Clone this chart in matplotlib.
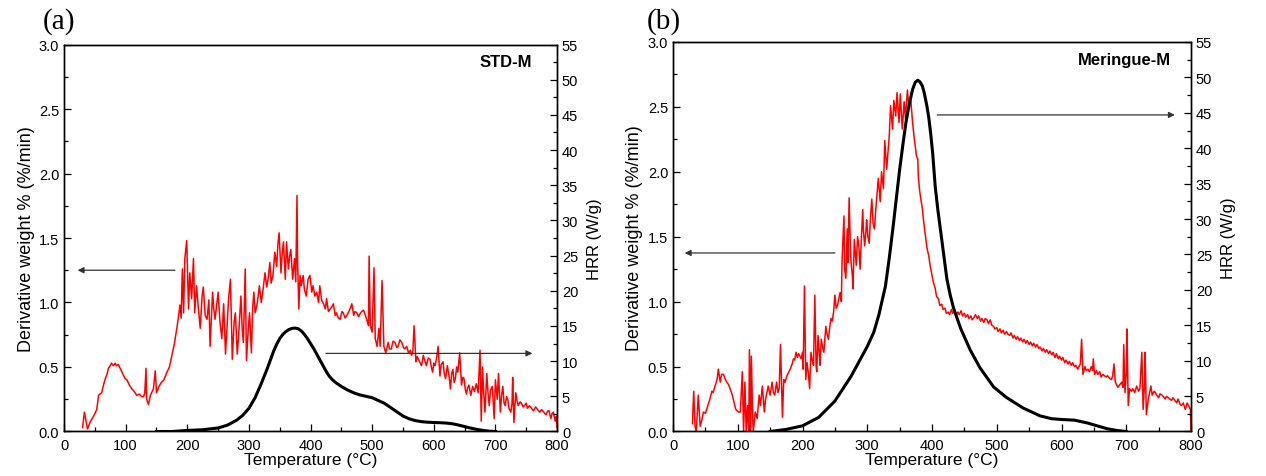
import numpy as np
import matplotlib
matplotlib.use("Agg")
import matplotlib.pyplot as plt
from matplotlib.ticker import MultipleLocator, FormatStrFormatter

plt.rcParams['font.family'] = ['Liberation Sans', 'DejaVu Sans']

# ---- panel (a) STD-M : derivative weight (red) ----
temp_dtg_a = [30, 33, 38, 43, 48, 53, 56, 61, 64, 67, 70, 72, 75, 77, 80, 83, 85, 88, 91, 95,
              99, 102, 106, 110, 114, 118, 122, 126, 129, 131, 133, 134, 137, 140, 142, 145, 148, 150, 154, 158,
              162, 167, 171, 175, 179, 183, 186, 188, 190, 192, 194, 196, 199, 202, 204, 207, 210, 212, 215, 218,
              221, 224, 226, 229, 232, 235, 237, 241, 243, 245, 248, 250, 253, 256, 259, 262, 264, 267, 270, 273,
              276, 278, 281, 283, 287, 289, 291, 294, 296, 299, 301, 304, 306, 308, 310, 313, 315, 317, 320, 323,
              326, 329, 331, 334, 336, 339, 342, 345, 347, 349, 352, 354, 356, 359, 361, 364, 366, 368, 371, 374,
              376, 378, 379, 381, 383, 385, 388, 390, 393, 396, 399, 402, 404, 407, 410, 413, 415, 418, 421, 424,
              426, 429, 432, 435, 437, 440, 442, 445, 448, 451, 453, 456, 459, 462, 464, 467, 470, 472, 475, 478,
              480, 483, 486, 489, 491, 494, 495, 497, 500, 503, 505, 508, 511, 513, 516, 519, 522, 526, 528, 531,
              534, 537, 540, 542, 545, 548, 551, 553, 556, 559, 562, 564, 566, 568, 571, 573, 575, 578, 580, 583,
              586, 588, 591, 594, 596, 598, 600, 602, 605, 607, 610, 612, 615, 617, 619, 622, 625, 627, 629, 631,
              633, 635, 637, 639, 642, 645, 647, 649, 651, 653, 655, 657, 660, 663, 666, 669, 672, 675, 677, 679,
              681, 683, 686, 688, 690, 692, 695, 698, 700, 703, 705, 708, 710, 712, 714, 716, 718, 720, 722, 725,
              727, 728, 730, 733, 735, 737, 740, 742, 745, 747, 750, 752, 755, 757, 760, 762, 765, 767, 770, 772,
              775, 777, 780, 782, 785, 787, 790, 792, 794, 797, 799, 800]
dtg_a = [0.03, 0.15, 0.02, 0.08, 0.12, 0.17, 0.28, 0.30, 0.36, 0.41, 0.45, 0.49, 0.51, 0.53, 0.51, 0.53, 0.51, 0.52, 0.49, 0.45,
         0.41, 0.40, 0.36, 0.33, 0.31, 0.28, 0.29, 0.27, 0.27, 0.30, 0.49, 0.25, 0.21, 0.28, 0.30, 0.33, 0.47, 0.30, 0.35, 0.38,
         0.40, 0.46, 0.50, 0.59, 0.68, 0.80, 0.90, 0.98, 0.88, 1.26, 0.92, 1.34, 1.48, 0.95, 1.23, 1.03, 1.34, 0.92, 1.13, 0.95,
         0.80, 1.05, 1.12, 0.90, 0.87, 1.02, 0.66, 1.08, 0.95, 0.87, 1.00, 1.08, 0.85, 0.72, 0.99, 0.60, 0.77, 1.03, 1.18, 0.56,
         0.85, 0.92, 0.60, 0.72, 1.05, 0.80, 0.69, 1.26, 0.55, 0.80, 0.92, 0.61, 0.95, 1.08, 0.92, 0.98, 1.05, 1.13, 1.00, 1.10,
         1.23, 1.12, 1.18, 1.31, 1.15, 1.21, 1.39, 1.28, 1.45, 1.54, 1.23, 1.38, 1.47, 1.18, 1.47, 1.26, 1.36, 1.41, 1.18, 1.34,
         1.16, 1.83, 1.31, 0.95, 1.21, 1.13, 1.21, 1.10, 1.05, 1.18, 1.21, 1.08, 1.13, 1.05, 1.08, 1.00, 1.13, 1.02, 0.99, 0.95,
         1.03, 0.93, 0.95, 0.97, 0.99, 0.90, 0.92, 0.88, 0.87, 0.93, 0.92, 0.88, 0.90, 0.93, 0.95, 0.99, 0.90, 0.93, 0.92, 0.89,
         0.91, 0.93, 0.94, 0.90, 0.87, 0.82, 1.36, 0.82, 0.77, 1.27, 0.72, 0.66, 0.80, 0.66, 1.17, 0.66, 0.61, 0.69, 0.64, 0.64,
         0.70, 0.69, 0.65, 0.66, 0.71, 0.69, 0.65, 0.64, 0.66, 0.61, 0.63, 0.59, 0.62, 0.82, 0.54, 0.58, 0.56, 0.53, 0.51, 0.59,
         0.54, 0.51, 0.57, 0.56, 0.50, 0.46, 0.53, 0.51, 0.58, 0.66, 0.43, 0.52, 0.54, 0.45, 0.41, 0.51, 0.42, 0.33, 0.45, 0.48,
         0.38, 0.41, 0.50, 0.46, 0.61, 0.36, 0.42, 0.41, 0.33, 0.29, 0.34, 0.36, 0.28, 0.35, 0.31, 0.37, 0.30, 0.63, 0.08, 0.50,
         0.30, 0.15, 0.45, 0.30, 0.20, 0.32, 0.35, 0.10, 0.40, 0.25, 0.45, 0.15, 0.28, 0.35, 0.22, 0.20, 0.27, 0.25, 0.18, 0.15,
         0.22, 0.42, 0.07, 0.30, 0.24, 0.20, 0.23, 0.22, 0.19, 0.20, 0.22, 0.18, 0.20, 0.19, 0.17, 0.16, 0.19, 0.18, 0.16, 0.15,
         0.17, 0.16, 0.14, 0.13, 0.16, 0.16, 0.10, 0.14, 0.15, 0.08, 0.12, 0.03]

# ---- panel (a) STD-M : heat release rate (black) ----
temp_hrr_a = [150, 175, 200, 225, 250, 265, 280, 290, 300, 310, 320, 330, 340, 345, 350, 355, 360, 365, 370, 375,
              380, 385, 390, 395, 400, 405, 410, 415, 420, 425, 430, 435, 440, 450, 460, 470, 480, 490, 500, 510,
              520, 530, 540, 550, 560, 570, 580, 590, 600, 610, 620, 630, 640, 650, 660, 670, 680, 690, 700]
hrr_a = [0.0, 0.0, 0.15, 0.25, 0.5, 0.9, 1.6, 2.3, 3.3, 4.8, 6.8, 9.0, 11.4, 12.4, 13.2, 13.8, 14.2, 14.5, 14.65, 14.7,
         14.6, 14.3, 13.8, 13.2, 12.5, 11.8, 11.0, 10.2, 9.4, 8.6, 7.9, 7.4, 7.0, 6.4, 5.9, 5.5, 5.2, 5.0, 4.8, 4.4,
         4.0, 3.4, 2.8, 2.2, 1.8, 1.55, 1.4, 1.32, 1.28, 1.25, 1.2, 1.1, 0.92, 0.7, 0.48, 0.3, 0.15, 0.05, 0.0]

# ---- panel (b) Meringue-M : derivative weight (red) ----
temp_dtg_b = [30, 32, 34, 36, 39, 42, 45, 47, 50, 52, 55, 57, 60, 62, 65, 68, 70, 73, 75, 78,
              80, 83, 86, 88, 91, 93, 95, 97, 101, 104, 107, 109, 111, 113, 115, 117, 118, 120, 121, 123,
              124, 127, 130, 133, 135, 138, 141, 143, 145, 147, 150, 153, 155, 157, 160, 162, 164, 166, 169, 171,
              173, 176, 178, 181, 184, 186, 188, 190, 192, 194, 196, 198, 200, 201, 203, 205, 207, 209, 211, 213,
              215, 217, 219, 221, 222, 224, 226, 227, 229, 231, 233, 235, 236, 238, 240, 242, 244, 246, 248, 250,
              252, 254, 256, 258, 260, 261, 262, 264, 265, 267, 269, 270, 272, 274, 275, 277, 278, 280, 282, 283,
              285, 287, 289, 291, 293, 294, 296, 298, 299, 301, 303, 305, 307, 309, 311, 313, 315, 317, 320, 322,
              325, 327, 330, 332, 334, 336, 339, 341, 344, 346, 349, 351, 354, 357, 359, 362, 364, 367, 370, 372,
              374, 376, 378, 379, 381, 383, 385, 387, 390, 392, 395, 397, 400, 402, 405, 407, 410, 412, 415, 417,
              420, 422, 425, 427, 430, 432, 435, 437, 440, 442, 445, 447, 450, 452, 455, 457, 460, 462, 465, 467,
              470, 472, 475, 477, 480, 482, 485, 487, 490, 492, 495, 497, 500, 502, 505, 507, 510, 512, 515, 517,
              520, 522, 525, 527, 530, 532, 535, 537, 540, 542, 545, 547, 550, 552, 555, 557, 560, 562, 565, 567,
              570, 572, 575, 577, 580, 582, 585, 587, 590, 592, 595, 597, 600, 602, 605, 607, 610, 612, 615, 617,
              620, 622, 625, 627, 629, 631, 633, 636, 638, 641, 643, 646, 648, 649, 651, 654, 656, 659, 661, 664,
              666, 669, 671, 674, 677, 679, 681, 683, 685, 687, 690, 693, 695, 696, 698, 700, 701, 703, 705, 708,
              710, 713, 716, 719, 721, 724, 726, 728, 729, 731, 734, 736, 738, 740, 743, 745, 747, 750, 752, 755,
              757, 760, 762, 765, 767, 770, 772, 775, 778, 780, 783, 785, 788, 791, 794, 796, 799, 800]
dtg_b = [0.06, 0.31, 0.04, 0.00, 0.28, 0.04, 0.10, 0.15, 0.14, 0.17, 0.22, 0.25, 0.31, 0.30, 0.35, 0.40, 0.48, 0.38, 0.44, 0.44,
         0.41, 0.38, 0.36, 0.33, 0.29, 0.25, 0.21, 0.17, 0.15, 0.15, 0.46, 0.00, 0.38, 0.00, 0.20, 0.00, 0.63, 0.00, 0.58, 0.10,
         0.00, 0.15, 0.10, 0.28, 0.20, 0.35, 0.15, 0.25, 0.30, 0.35, 0.28, 0.38, 0.30, 0.28, 0.38, 0.30, 0.33, 0.67, 0.11, 0.40,
         0.38, 0.43, 0.45, 0.48, 0.52, 0.56, 0.55, 0.61, 0.57, 0.60, 0.58, 0.56, 0.61, 0.48, 1.12, 0.40, 0.53, 0.45, 0.33, 0.61,
         0.55, 0.51, 1.05, 0.50, 0.46, 0.74, 0.60, 0.51, 0.71, 0.65, 0.61, 0.75, 0.81, 0.75, 0.71, 0.80, 0.87, 0.85, 0.92, 1.05,
         0.95, 0.97, 1.02, 1.07, 1.00, 1.30, 1.43, 1.66, 1.25, 1.18, 1.56, 1.30, 1.80, 1.40, 1.30, 1.20, 1.10, 1.48, 1.35, 1.28,
         1.50, 1.43, 1.25, 1.50, 1.71, 1.55, 1.43, 1.55, 1.63, 1.50, 1.45, 1.65, 1.79, 1.60, 1.56, 1.70, 1.82, 1.95, 1.77, 2.00,
         1.87, 2.24, 2.02, 2.15, 2.28, 2.51, 2.33, 2.55, 2.43, 2.61, 2.38, 2.60, 2.33, 2.54, 2.41, 2.63, 2.51, 2.56, 2.38, 2.28,
         2.20, 2.12, 2.10, 1.95, 1.85, 1.78, 1.72, 1.62, 1.50, 1.42, 1.35, 1.28, 1.20, 1.15, 1.10, 1.04, 1.02, 0.97, 0.98, 0.94,
         0.95, 0.91, 0.92, 0.90, 0.94, 0.91, 0.93, 0.89, 0.92, 0.90, 0.93, 0.89, 0.91, 0.88, 0.90, 0.87, 0.89, 0.86, 0.88, 0.90,
         0.87, 0.89, 0.85, 0.87, 0.84, 0.87, 0.86, 0.83, 0.86, 0.82, 0.81, 0.79, 0.80, 0.77, 0.79, 0.76, 0.78, 0.75, 0.77, 0.75,
         0.74, 0.76, 0.72, 0.74, 0.71, 0.73, 0.70, 0.72, 0.69, 0.71, 0.68, 0.70, 0.67, 0.69, 0.66, 0.68, 0.65, 0.67, 0.64, 0.65,
         0.62, 0.64, 0.61, 0.63, 0.60, 0.62, 0.59, 0.61, 0.57, 0.60, 0.56, 0.58, 0.55, 0.57, 0.53, 0.55, 0.52, 0.54, 0.51, 0.53,
         0.50, 0.51, 0.48, 0.50, 0.52, 0.71, 0.44, 0.50, 0.47, 0.48, 0.46, 0.50, 0.47, 0.56, 0.44, 0.47, 0.44, 0.46, 0.42, 0.44,
         0.43, 0.42, 0.43, 0.41, 0.40, 0.43, 0.52, 0.38, 0.36, 0.34, 0.36, 0.38, 0.34, 0.67, 0.30, 0.45, 0.79, 0.20, 0.33, 0.31,
         0.33, 0.30, 0.35, 0.31, 0.33, 0.61, 0.17, 0.35, 0.61, 0.13, 0.25, 0.30, 0.35, 0.28, 0.31, 0.30, 0.28, 0.26, 0.29, 0.28,
         0.27, 0.25, 0.27, 0.26, 0.25, 0.24, 0.26, 0.24, 0.22, 0.25, 0.21, 0.20, 0.22, 0.17, 0.22, 0.20, 0.17, 0.00]

# ---- panel (b) Meringue-M : heat release rate (black) ----
temp_hrr_b = [150, 175, 200, 225, 250, 275, 300, 310, 318, 323, 328, 334, 340, 345, 350, 355, 360, 365, 370, 374,
              378, 381, 385, 388, 392, 395, 398, 401, 405, 409, 413, 418, 423, 428, 433, 444, 459, 474, 495, 515,
              541, 567, 585, 600, 620, 640, 655, 670, 685, 700]
hrr_b = [0.0, 0.3, 0.8, 2.0, 4.3, 7.8, 12.0, 14.0, 16.5, 18.5, 20.5, 24.5, 29.0, 33.0, 37.0, 40.5, 43.8, 46.3, 48.3, 49.3,
         49.6, 49.4, 48.8, 47.8, 46.0, 44.3, 42.0, 39.3, 34.5, 31.3, 28.5, 25.0, 21.5, 19.3, 17.5, 14.6, 11.5, 9.0, 6.3, 4.8,
         3.3, 2.2, 1.8, 1.7, 1.6, 1.2, 0.8, 0.4, 0.15, 0.0]

fig = plt.figure(figsize=(12.66, 4.77), dpi=100)


def draw_panel(rect, t_dtg, dtg, t_hrr, hrr, tag, sample, sample_xy, left_arrow, right_arrow, tag_x):
    ax = fig.add_axes(rect)
    ax.plot(t_dtg, dtg, color='#ff0000', lw=1.1)
    ax.set_xlim(0, 800)
    ax.set_ylim(0, 3.0)
    ax.xaxis.set_major_locator(MultipleLocator(100))
    ax.xaxis.set_minor_locator(MultipleLocator(50))
    ax.yaxis.set_major_locator(MultipleLocator(0.5))
    ax.yaxis.set_minor_locator(MultipleLocator(0.25))
    ax.yaxis.set_major_formatter(FormatStrFormatter('%.1f'))
    ax.set_xlabel('Temperature (°C)', fontsize=12.5, labelpad=0)
    ax.set_ylabel('Derivative weight % (%/min)', fontsize=13, labelpad=3)

    ax2 = ax.twinx()
    ax2.plot(t_hrr, hrr, color='black', lw=2.2, solid_joinstyle='round')
    ax2.set_ylim(0, 55)
    ax2.yaxis.set_major_locator(MultipleLocator(5))
    ax2.yaxis.set_minor_locator(MultipleLocator(2.5))
    ax2.set_ylabel('HRR (W/g)', fontsize=12, labelpad=6)

    for a in (ax, ax2):
        a.tick_params(which='both', direction='in', labelsize=10.5, width=0.9)
        a.tick_params(which='major', length=5)
        a.tick_params(which='minor', length=3)
        for s in a.spines.values():
            s.set_linewidth(1.0)
    ax.tick_params(axis='x', pad=5)
    ax.tick_params(axis='y', right=False)
    ax2.tick_params(axis='y', left=False)

    ax.text(sample_xy[0], sample_xy[1], sample, transform=ax.transAxes, ha='right', va='center',
            fontsize=12, fontweight='bold')

    arrow = dict(arrowstyle='-|>', color='#333333', lw=0.9, mutation_scale=9, shrinkA=0, shrinkB=0)
    ax.annotate('', xy=(left_arrow[1], left_arrow[2]), xytext=(left_arrow[0], left_arrow[2]),
                xycoords='data', arrowprops=arrow)
    ax2.annotate('', xy=(right_arrow[1], right_arrow[2]), xytext=(right_arrow[0], right_arrow[2]),
                 xycoords='data', arrowprops=arrow)

    fig.text(tag_x, 0.955, tag, fontsize=21, family=['Liberation Serif', 'DejaVu Serif'], va='center')
    return ax, ax2


draw_panel([0.0506, 0.0933, 0.3894, 0.8113], temp_dtg_a, dtg_a, temp_hrr_a, hrr_a,
           '(a)', 'STD-M', (0.949, 0.955), (180, 22, 1.25), (425, 760, 11.1), 0.034)
draw_panel([0.5316, 0.0933, 0.4092, 0.8166], temp_dtg_b, dtg_b, temp_hrr_b, hrr_b,
           '(b)', 'Meringue-M', (0.961, 0.956), (250, 18, 1.375), (408, 775, 44.7), 0.511)

fig.savefig('out.png', dpi=100)
